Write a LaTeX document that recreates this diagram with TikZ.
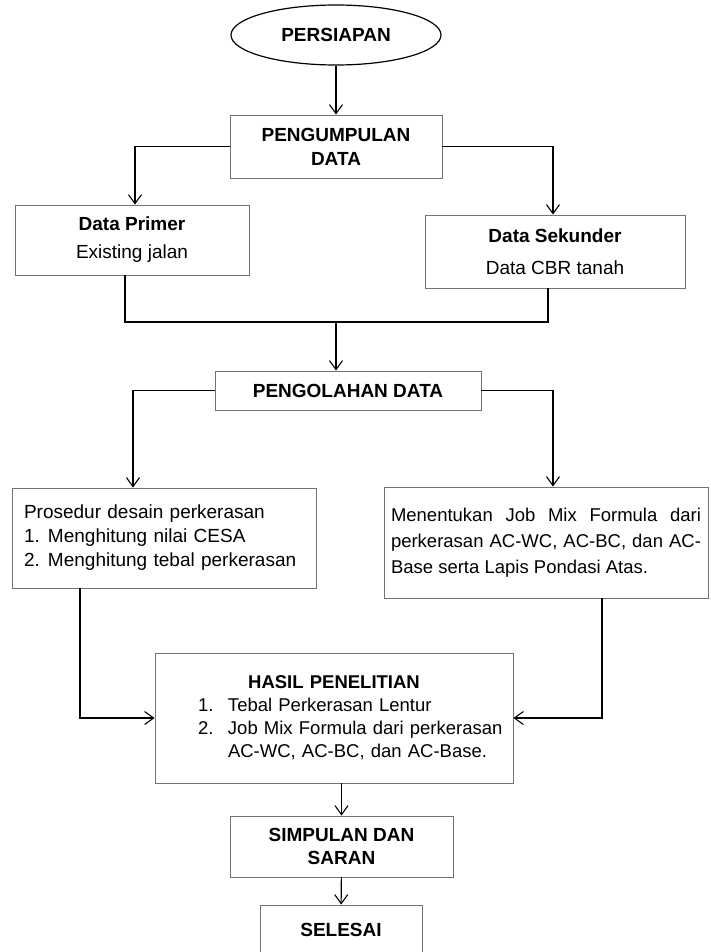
\documentclass[tikz,border=0pt]{standalone}
\usepackage{fontspec}
\setmainfont{Liberation Sans}
\usetikzlibrary{shapes.geometric,arrows.meta}

\begin{document}
\begin{tikzpicture}[x=1pt,y=-1pt,
  every node/.style={font=\fontsize{19}{24}\selectfont},
  kotak/.style={draw=black!55,line width=0.9pt,rectangle,inner sep=0pt,align=center},
  judul/.style={kotak,font=\fontsize{19}{24}\selectfont\bfseries},
  panah/.style={line width=1.1pt,-{Straight Barb[length=9pt,width=13pt]}},
  cabang/.style={line width=1.6pt,-{Straight Barb[length=9pt,width=13pt,line width=1.1pt]}},
  garis/.style={line width=1.6pt}]

  \clip (0,0) rectangle (711,952);

  \node (mulai) at (336,35) [draw,ellipse,line width=1.2pt,inner sep=0pt,
    minimum width=210pt,minimum height=60pt,font=\fontsize{19}{24}\selectfont\bfseries] {PERSIAPAN};

  \node (kumpul) at (336,146.5) [judul,minimum width=212pt,minimum height=63pt] {PENGUMPULAN\\DATA};

  \node (primer) at (132,240) [kotak,minimum width=234pt,minimum height=70pt]
    {\textbf{Data Primer}\\[4pt]Existing jalan};
  \node (sekunder) at (555,251.5) [kotak,minimum width=260pt,minimum height=73pt]
    {\textbf{Data Sekunder}\\[8pt]Data CBR tanah};

  \coordinate (gabung) at (336,322);

  \node (olah) at (348,390.5) [judul,minimum width=266pt,minimum height=39pt] {PENGOLAHAN DATA};

  \node (prosedur) at (164,538) [kotak,minimum width=304pt,minimum height=100pt,
    text width=280pt,align=left]
    {Prosedur desain perkerasan\\
     \makebox[24pt][l]{1.}Menghitung nilai CESA\\
     \makebox[24pt][l]{2.}Menghitung tebal perkerasan};
  \node (jmf) at (546,542.5) [kotak,minimum width=324pt,minimum height=111pt,
    text width=310pt,align=justify,font=\fontsize{18.5}{26}\selectfont]
    {Menentukan Job Mix Formula dari\linebreak
     perkerasan AC-WC, AC-BC, dan AC-\linebreak
     Base serta Lapis Pondasi Atas.};

  \node (hasil) at (334,718) [kotak,minimum width=358pt,minimum height=130pt,
    text width=356pt,align=left,font=\fontsize{18.5}{23}\selectfont]
    {\makebox[356pt]{\bfseries HASIL PENELITIAN}\\
     \hspace*{42pt}\makebox[30pt][l]{1.}Tebal Perkerasan Lentur\\
     \hspace*{42pt}\makebox[30pt][l]{2.}Job Mix Formula dari perkerasan\\
     \hspace*{72pt}AC-WC, AC-BC, dan AC-Base.};

  \node (simpulan) at (341.5,846.5) [judul,minimum width=223pt,minimum height=61pt,
    font=\fontsize{19}{23}\selectfont\bfseries] {SIMPULAN DAN\\SARAN};
  \node (selesai) at (341,930) [judul,minimum width=162pt,minimum height=50pt] {SELESAI};

  \draw[panah] (mulai) -- (kumpul);
  \draw[cabang] (kumpul.west) -| ([xshift=3pt]primer.north);
  \draw[cabang] (kumpul.east) -| ([xshift=-2pt]sekunder.north);

  \draw[garis] ([xshift=-7pt]primer.south) |- (gabung) -| ([xshift=-7pt]sekunder.south);
  \draw[panah] (gabung) -- (gabung |- olah.north);

  \draw[cabang] (olah.west) -| ([xshift=-31pt]prosedur.north);
  \draw[cabang] (olah.east) -| ([xshift=7pt]jmf.north);

  \draw[cabang] ([xshift=-84pt]prosedur.south) |- (hasil.west);
  \draw[cabang] ([xshift=56pt]jmf.south) |- (hasil.east);

  \draw[panah] (simpulan.north |- hasil.south) -- (simpulan.north);
  \draw[panah] (simpulan) -- (selesai);

\end{tikzpicture}
\end{document}
